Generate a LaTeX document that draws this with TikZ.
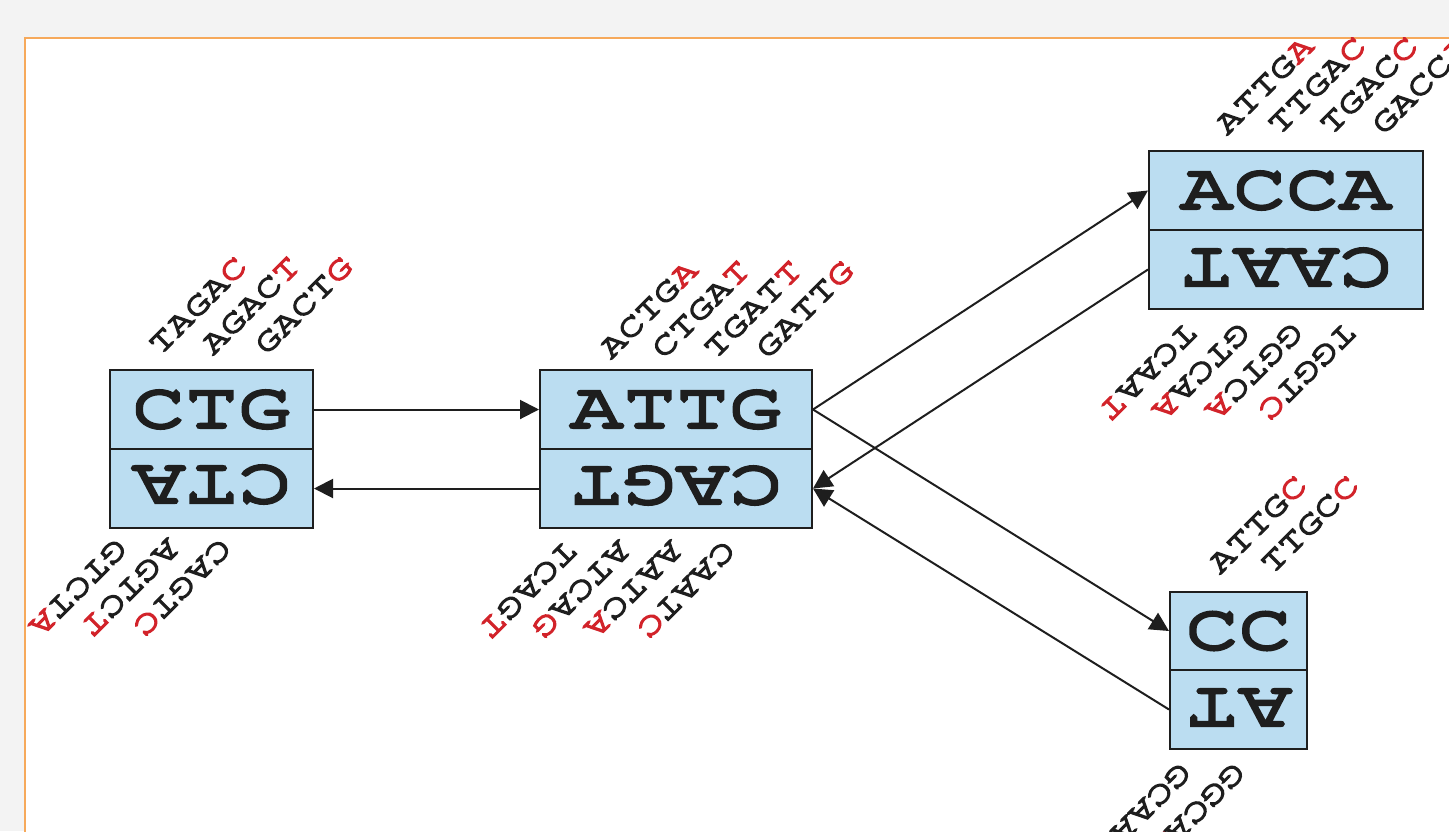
\documentclass[tikz,border=0pt]{standalone}
\usepackage{fontspec}
\usepackage{graphicx}
\usetikzlibrary{arrows.meta}

% wide slab-serif typewriter faces for the sequences
\newfontfamily\seqbigfont[FakeStretch=1.4, FakeBold=6]{TeX Gyre Cursor}
\newfontfamily\seqsmallfont[FakeStretch=1.3, FakeBold=5]{TeX Gyre Cursor}
\newcommand\bigseq{\seqbigfont\fontsize{63}{63}\selectfont}
\newcommand\smallseq{\seqsmallfont\fontsize{32}{32}\selectfont}

\definecolor{seqred}{HTML}{D2232A}
\definecolor{boxblue}{HTML}{BBDDF1}
\definecolor{frameorange}{HTML}{F6A95B}
\definecolor{bggray}{HTML}{F3F3F3}
\definecolor{ink}{HTML}{1E1E1E}

\newcommand\hl[1]{\textcolor{seqred}{#1}}
\newcommand\upside[1]{\rotatebox[origin=c]{180}{#1}}

\tikzset{
  half/.style={draw=ink, line width=2pt, fill=boxblue, inner sep=0pt,
    minimum height=79pt, font=\bigseq, text=ink},
  flipped/.style={inner sep=0pt, font=\bigseq, text=ink},
  toplab/.style={rotate=45, anchor=base west, inner sep=0pt,
    font=\smallseq, text=ink},
  botlab/.style={rotate=225, anchor=base west, inner sep=0pt,
    font=\smallseq, text=ink},
  link/.style={draw=ink, line width=2pt,
    -{Triangle[length=19pt,width=19pt]}},
}

\begin{document}
\begin{tikzpicture}[x=1pt,y=-1pt]
  \useasboundingbox (0,0) rectangle (1449,831);
  \clip (0,0) rectangle (1449,831);

  % page background and framed panel
  \fill[bggray] (0,0) rectangle (1449,831);
  \fill[white] (25,38) rectangle (1470,850);
  \draw[frameorange, line width=2pt] (1470,38) -- (25,38) -- (25,850);

  % nodes: upper strand on top, lower strand upside down below
  \node[half, minimum width=203pt] (ctgT) at (211.5,409.5) {CTG};
  \node[half, minimum width=203pt] (ctgB) at (211.5,488.5) {};
  \node[flipped] (ctgBtext) at ([yshift=4pt]ctgB.center) {\upside{CTA}};

  \node[half, minimum width=272pt] (attgT) at (676,409.5) {ATTG};
  \node[half, minimum width=272pt] (attgB) at (676,488.5) {};
  \node[flipped] (attgBtext) at ([yshift=3pt]attgB.center) {\upside{CAGT}};

  \node[half, minimum width=274pt] (accaT) at (1286,190.5) {ACCA};
  \node[half, minimum width=274pt] (accaB) at (1286,269.5) {};
  \node[flipped] (accaBtext) at ([yshift=2pt]accaB.center) {\upside{CAAT}};

  \node[half, minimum width=137pt] (ccT) at (1238.5,631) {CC};
  \node[half, minimum width=137pt] (ccB) at (1238.5,709.5) {};
  \node[flipped] (ccBtext) at ([yshift=2pt]ccB.center) {\upside{AT}};

  % edges between the nodes
  \draw[link] (ctgT.east) -- (attgT.west);
  \draw[link] (attgB.west) -- (ctgB.east);
  \draw[link] (attgT.east) -- (accaT.west);
  \draw[link] (accaB.west) -- (attgB.east);
  \draw[link] (attgT.east) -- (ccT.west);
  \draw[link] (ccB.west) -- (attgB.east);

  % k-mers above CTG
  \node[toplab] (ctgU1) at (160,356) {TAGA\hl{C}};
  \node[toplab] (ctgU2) at (213,356) {AGAC\hl{T}};
  \node[toplab] (ctgU3) at (266,356) {GACT\hl{G}};
  % k-mers below CTG
  \node[botlab] (ctgD1) at (116,537) {GTCT\hl{A}};
  \node[botlab] (ctgD2) at (168,537) {AGTC\hl{T}};
  \node[botlab] (ctgD3) at (220,537) {CAGT\hl{C}};

  % k-mers above ATTG
  \node[toplab] (attgU1) at (611,360) {ACTG\hl{A}};
  \node[toplab] (attgU2) at (663,360) {CTGA\hl{T}};
  \node[toplab] (attgU3) at (715,360) {TGAT\hl{T}};
  \node[toplab] (attgU4) at (767,360) {GATT\hl{G}};
  % k-mers below ATTG
  \node[botlab] (attgD1) at (566,539) {TCAG\hl{T}};
  \node[botlab] (attgD2) at (619,539) {ATCA\hl{G}};
  \node[botlab] (attgD3) at (671,539) {AATC\hl{A}};
  \node[botlab] (attgD4) at (724,539) {CAAT\hl{C}};

  % k-mers above ACCA
  \node[toplab] (accaU1) at (1227,136) {ATTG\hl{A}};
  \node[toplab] (accaU2) at (1279,136) {TTGA\hl{C}};
  \node[toplab] (accaU3) at (1331,136) {TGAC\hl{C}};
  \node[toplab] (accaU4) at (1383,136) {GACC\hl{A}};
  % k-mers below ACCA
  \node[botlab] (accaD1) at (1186,321) {TCAA\hl{T}};
  \node[botlab] (accaD2) at (1239,321) {GTCA\hl{A}};
  \node[botlab] (accaD3) at (1292,321) {GGTC\hl{A}};
  \node[botlab] (accaD4) at (1345,321) {TGGT\hl{C}};

  % k-mers above CC
  \node[toplab] (ccU1) at (1220,575) {ATTG\hl{C}};
  \node[toplab] (ccU2) at (1272,575) {TTGC\hl{C}};
  % k-mers below CC
  \node[botlab] (ccD1) at (1180,761) {GCAA\hl{T}};
  \node[botlab] (ccD2) at (1234,761) {GGCA\hl{A}};
\end{tikzpicture}
\end{document}
